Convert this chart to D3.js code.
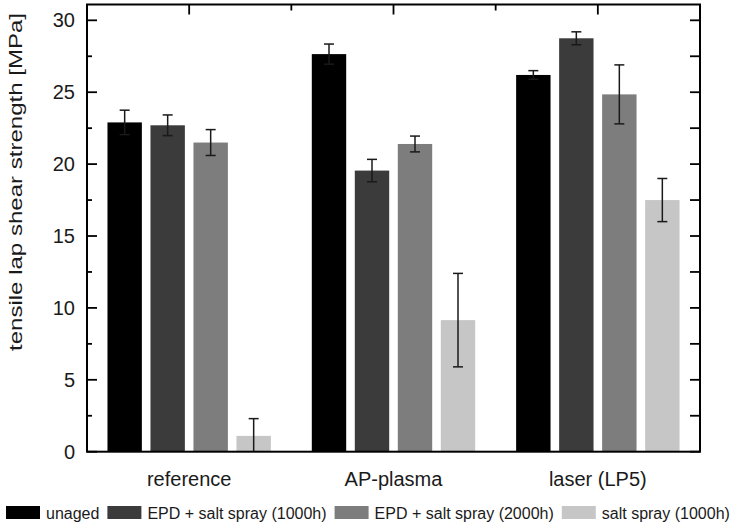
<!DOCTYPE html>
<html>
<head>
<meta charset="utf-8">
<script src="https://cdn.jsdelivr.net/npm/d3@7"></script>
<style>
  body { margin: 0; background: #fff; }
  svg { display: block; font-family: "Liberation Sans", Arial, sans-serif; }
</style>
</head>
<body>
<div class="chart"></div>
<script>
// groups on the x axis and the four ageing conditions
const groups = ["reference", "AP-plasma", "laser (LP5)"];
const seriesNames = [
  "unaged",
  "EPD + salt spray (1000h)",
  "EPD + salt spray (2000h)",
  "salt spray (1000h)"
];
const seriesColors = ["#000000", "#3b3b3b", "#7d7d7d", "#c6c6c6"];

// mean values [MPa], one entry per group
const unaged = [22.9, 27.65, 26.2];
const epd1000 = [22.7, 19.55, 28.75];
const epd2000 = [21.5, 21.4, 24.85];
const saltSpray = [1.1, 9.15, 17.5];

// standard deviations [MPa]
const unagedErr = [0.85, 0.7, 0.3];
const epd1000Err = [0.72, 0.78, 0.45];
const epd2000Err = [0.9, 0.55, 2.05];
const saltSprayErr = [1.2, 3.25, 1.5];

const yTicks = [0, 5, 10, 15, 20, 25, 30];
const yLabel = "tensile lap shear strength [MPa]";

const values = [unaged, epd1000, epd2000, saltSpray];
const errors = [unagedErr, epd1000Err, epd2000Err, saltSprayErr];

// flatten into one record per bar
const data = [];
groups.forEach((g, gi) => {
  seriesNames.forEach((s, si) => {
    data.push({ group: g, series: s, val: values[si][gi], err: errors[si][gi] });
  });
});

const width = 737, height = 525;
const margin = { top: 4.5, right: 37, bottom: 73.3, left: 87 };
const innerW = width - margin.left - margin.right;
const innerH = height - margin.top - margin.bottom;

const svg = d3.select(".chart")
  .append("svg")
  .attr("width", width)
  .attr("height", height);

const g = svg.append("g")
  .attr("transform", `translate(${margin.left},${margin.top})`);

// scales
const x0 = d3.scaleBand().domain(groups).range([0, innerW]).padding(0);
const x1 = d3.scaleBand()
  .domain(seriesNames)
  .range([0, x0.bandwidth()])
  .paddingInner(0.2)
  .paddingOuter(0.476);
const y = d3.scaleLinear().domain([0, 31.1]).range([innerH, 0]);
const color = d3.scaleOrdinal().domain(seriesNames).range(seriesColors);

// bars
g.append("g")
  .selectAll("rect")
  .data(data)
  .enter()
  .append("rect")
  .attr("x", (d) => x0(d.group) + x1(d.series))
  .attr("y", (d) => y(d.val))
  .attr("width", x1.bandwidth())
  .attr("height", (d) => y(0) - y(d.val))
  .attr("fill", (d) => color(d.series));

// error bars
const capW = 5;
const eb = g.append("g")
  .attr("stroke", "#1a1a1a")
  .attr("stroke-width", 1.5)
  .selectAll("g")
  .data(data)
  .enter()
  .append("g")
  .attr("transform", (d) => `translate(${x0(d.group) + x1(d.series) + x1.bandwidth() / 2},0)`);

eb.append("line")
  .attr("y1", (d) => y(Math.max(0, d.val - d.err)))
  .attr("y2", (d) => y(d.val + d.err));
eb.append("line")
  .attr("x1", -capW).attr("x2", capW)
  .attr("y1", (d) => y(d.val + d.err))
  .attr("y2", (d) => y(d.val + d.err));
eb.filter((d) => d.val - d.err > 0)
  .append("line")
  .attr("x1", -capW).attr("x2", capW)
  .attr("y1", (d) => y(d.val - d.err))
  .attr("y2", (d) => y(d.val - d.err));

// minor tick positions every 2.5
const minorY = d3.range(2.5, 31, 5);

// left axis: labels + inward ticks
const left = g.append("g")
  .call(d3.axisLeft(y).tickValues(yTicks).tickSize(0).tickPadding(12));
left.select(".domain").remove();
left.selectAll("text").style("font-size", "20px").attr("fill", "#1a1a1a");

const tickG = g.append("g").attr("stroke", "#000").attr("stroke-width", 1.8);
tickG.selectAll(".ly").data(yTicks).enter().append("line")
  .attr("x1", 0).attr("x2", 10).attr("y1", (d) => y(d)).attr("y2", (d) => y(d));
tickG.selectAll(".lm").data(minorY).enter().append("line")
  .attr("x1", 0).attr("x2", 5).attr("y1", (d) => y(d)).attr("y2", (d) => y(d));
// right axis ticks, all same length
tickG.selectAll(".ry").data(yTicks.concat(minorY)).enter().append("line")
  .attr("x1", innerW).attr("x2", innerW - 10).attr("y1", (d) => y(d)).attr("y2", (d) => y(d));
// top ticks: group centres and group boundaries
tickG.selectAll(".tx").data(groups).enter().append("line")
  .attr("x1", (d) => x0(d) + x0.bandwidth() / 2).attr("x2", (d) => x0(d) + x0.bandwidth() / 2)
  .attr("y1", 0).attr("y2", 10);
tickG.selectAll(".tm").data(groups.slice(1)).enter().append("line")
  .attr("x1", (d) => x0(d)).attr("x2", (d) => x0(d))
  .attr("y1", 0).attr("y2", 6);

// frame
g.append("rect")
  .attr("width", innerW)
  .attr("height", innerH)
  .attr("fill", "none")
  .attr("stroke", "#000")
  .attr("stroke-width", 2);

// category labels
const bottom = g.append("g")
  .attr("transform", `translate(0,${innerH})`)
  .call(d3.axisBottom(x0).tickSize(0).tickPadding(20));
bottom.select(".domain").remove();
bottom.selectAll("text").style("font-size", "20px").attr("fill", "#1a1a1a");

// y axis title
svg.append("text")
  .attr("transform", "translate(22,182) rotate(-90)")
  .attr("text-anchor", "middle")
  .attr("textLength", 338)
  .attr("lengthAdjust", "spacingAndGlyphs")
  .style("font-size", "19px")
  .attr("fill", "#1a1a1a")
  .text(yLabel);

// legend along the bottom
const legend = svg.append("g").attr("transform", "translate(6,506)");
let lx = 0;
seriesNames.forEach((s) => {
  const item = legend.append("g").attr("transform", `translate(${lx},0)`);
  item.append("rect").attr("width", 34).attr("height", 13).attr("fill", color(s));
  const t = item.append("text")
    .attr("x", 40)
    .attr("y", 13)
    .style("font-size", "16px")
    .attr("fill", "#1a1a1a")
    .text(s);
  lx += 40 + t.node().getComputedTextLength() + 8;
});
</script>
</body>
</html>
